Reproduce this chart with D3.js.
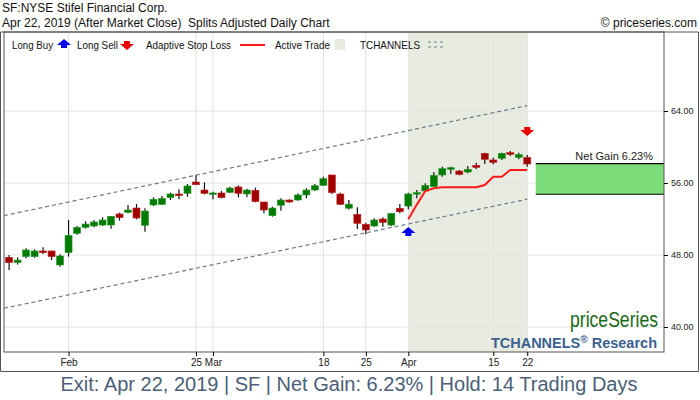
<!DOCTYPE html>
<html><head><meta charset="utf-8">
<script src="https://cdn.jsdelivr.net/npm/d3@7"></script>
<style>body{margin:0;background:#fff}text{font-family:"Liberation Sans",Arial,sans-serif}</style>
</head><body><svg id="c" width="700" height="400"></svg>
<script>
const opens=[47.74,47.15,47.82,47.82,48.45,48.45,46.89,48.26,50.41,51.07,51.22,51.33,51.33,52.56,52.74,53.22,51.30,53.56,53.63,54.37,54.78,54.85,56.11,55.22,54.78,54.89,54.96,55.56,54.78,55.19,53.89,52.37,53.52,54.11,54.11,54.67,55.22,55.74,56.89,54.78,53.20,52.52,51.41,51.22,52.00,51.33,53.19,53.44,54.85,55.11,55.59,56.89,57.52,57.33,57.22,57.96,59.30,58.56,58.74,59.37,58.85,58.85];
const closes=[47.15,47.44,48.56,48.45,48.26,47.82,47.89,50.19,51.07,51.44,51.67,51.89,52.30,52.15,53.00,52.11,52.89,54.19,54.30,54.78,54.59,55.67,55.81,54.85,54.89,54.37,55.44,54.85,55.22,53.93,53.00,53.22,54.11,53.89,54.67,55.22,55.70,56.48,54.93,53.63,53.65,51.52,50.78,51.89,51.63,52.63,52.81,54.78,54.93,55.74,56.85,57.59,57.70,56.96,57.52,57.74,58.63,58.30,59.30,59.19,59.15,58.11];
const highs=[47.99,47.74,48.74,48.63,48.85,48.45,48.07,51.89,51.22,51.74,51.89,52.19,52.30,52.70,53.56,53.67,53.19,54.41,54.56,54.93,55.30,55.89,56.85,56.07,55.04,55.11,55.59,55.74,55.37,55.48,53.89,53.37,54.30,54.19,54.85,55.41,55.89,56.70,56.89,54.93,54.10,53.30,51.59,52.07,52.19,52.63,53.67,54.93,55.22,55.96,57.22,57.81,57.81,57.44,57.89,58.26,59.37,58.81,59.37,59.56,59.37,59.11];
const lows=[46.33,46.93,47.63,47.70,48.11,47.44,46.70,47.82,50.26,50.93,51.07,51.22,50.93,51.81,52.63,51.96,50.59,53.44,53.56,54.11,54.19,54.48,55.81,54.74,54.19,54.30,54.85,54.41,54.41,53.85,52.63,52.26,52.93,53.82,54.04,54.30,55.11,55.67,54.78,53.56,53.05,50.89,50.30,51.15,51.15,51.22,52.63,53.07,54.30,55.00,55.52,56.70,57.00,56.85,57.07,57.56,58.11,58.07,58.56,59.00,58.63,57.81];
const stopIdx=[47,48,49,50,51,52,53,54,55,56,57,58,59,60,61];
const stopVals=[51.96,53.6,55.11,55.41,55.52,55.52,55.52,55.52,55.52,55.78,56.7,56.7,57.44,57.44,57.44];
const xTickIdx=[7,22,24,37,42,47,57,61];
const xTickLabels=["Feb","25","Mar","18","25","Apr","15","22"];
const yTicks=[40,48,56,64];
const upperCh=[52.5,64.6], lowerCh=[42.2,54.2];
const entry=54.75, exitP=58.16;

const svg=d3.select("#c");
const L=4,R=664,T=32,B=352;
const x=d3.scaleLinear().domain([-0.6,77.1]).range([L,R]);
const y=d3.scaleLinear().domain([56,64]).range([183,111]);
svg.append("defs").append("clipPath").attr("id","pc").append("rect").attr("x",L).attr("y",T).attr("width",R-L).attr("height",B-T);
const g=svg.append("g").attr("clip-path","url(#pc)");
g.append("rect").attr("x",x(47)).attr("y",T).attr("width",x(61)-x(47)).attr("height",B-T).attr("fill","#e8ebe0");
yTicks.forEach(v=>g.append("line").attr("x1",L).attr("x2",R).attr("y1",y(v)).attr("y2",y(v)).attr("stroke","#e2e2e2"));
xTickIdx.forEach(i=>g.append("line").attr("x1",x(i)).attr("x2",x(i)).attr("y1",T).attr("y2",B).attr("stroke","#e2e2e2"));
[upperCh,lowerCh].forEach(c=>{
  const s=(c[1]-c[0])/61;
  g.append("line").attr("x1",x(-0.6)).attr("y1",y(c[0]-0.6*s)).attr("x2",x(61)).attr("y2",y(c[1]))
   .attr("stroke","#6a7a8a").attr("stroke-width",1.2).attr("stroke-dasharray","4,3");
});
opens.forEach((o,i)=>{
  const c=closes[i],up=c>=o,col=up?"#007a00":"#a00000";
  g.append("line").attr("x1",x(i)).attr("x2",x(i)).attr("y1",y(highs[i])).attr("y2",y(lows[i])).attr("stroke","#111").attr("stroke-width",1.2);
  const t=Math.min(y(o),y(c)),h=Math.max(1.5,Math.abs(y(o)-y(c)));
  g.append("rect").attr("x",x(i)-3.5).attr("y",t).attr("width",7).attr("height",h).attr("fill",col).attr("stroke",up?"#2a9a2a":"#c02020").attr("stroke-width",0.6);
});
g.append("path").datum(stopIdx.map((d,k)=>[d,stopVals[k]])).attr("d",d3.line().x(d=>x(d[0])).y(d=>y(d[1])))
 .attr("fill","none").attr("stroke","#ff1a1a").attr("stroke-width",2);
g.append("rect").attr("x",x(62)).attr("y",y(exitP)).attr("width",R-x(62)).attr("height",y(entry)-y(exitP)).attr("fill","#7ddc7a");
[exitP,entry].forEach(v=>g.append("line").attr("x1",x(62)).attr("x2",R).attr("y1",y(v)).attr("y2",y(v)).attr("stroke","#000").attr("stroke-width",1.2));
g.append("text").attr("x",653).attr("y",y(exitP)-4).attr("text-anchor","end").attr("font-size",11).attr("fill","#222").text("Net Gain 6.23%");
function arrow(cx,cy,dir){
  const p=dir>0?[[0,-6],[7,0],[3,0],[3,3],[-3,3],[-3,0],[-7,0]]:[[0,6],[7,0],[3,0],[3,-3],[-3,-3],[-3,0],[-7,0]];
  return "M"+p.map(q=>[cx+q[0],cy+q[1]].join(",")).join("L")+"Z";
}
g.append("path").attr("d",arrow(x(47),233,1)).attr("fill","#0000ee");
g.append("path").attr("d",arrow(x(61),130,-1)).attr("fill","#ee0000");
g.append("text").attr("x",658).attr("y",327).attr("text-anchor","end").attr("font-size",22).attr("fill","#1a6a1a")
 .attr("font-family","DejaVu Sans Condensed").attr("transform","translate(658,0) scale(0.8,1) translate(-658,0)").text("priceSeries");
const tr=g.append("text").attr("x",657).attr("y",348).attr("text-anchor","end").attr("font-size",14.5).attr("font-weight","bold").attr("fill","#3a6090");
tr.append("tspan").text("TCHANNELS");tr.append("tspan").attr("font-size",10).attr("dy",-5).text("®");tr.append("tspan").attr("dy",5).text(" Research");
const lg=svg.append("g").attr("font-size",11.5).attr("fill","#111");
function lt(x0,w,s){lg.append("text").attr("x",x0).attr("y",49).attr("textLength",w).attr("lengthAdjust","spacingAndGlyphs").text(s);}
lt(12,41,"Long Buy");
lg.append("path").attr("d",arrow(64,45,1)).attr("fill","#0000ee");
lt(77,41,"Long Sell");
lg.append("path").attr("d",arrow(127,44,-1)).attr("fill","#ee0000");
lt(146,85,"Adaptive Stop Loss");
lg.append("line").attr("x1",240).attr("x2",265).attr("y1",45).attr("y2",45).attr("stroke","#ff1a1a").attr("stroke-width",2);
lt(275,55,"Active Trade");
lg.append("rect").attr("x",335).attr("y",39).attr("width",10).attr("height",11).attr("fill","#e8ebe0");
lt(360,60,"TCHANNELS");
[42,47].forEach(yy=>lg.append("line").attr("x1",428).attr("x2",446).attr("y1",yy).attr("y2",yy).attr("stroke","#6a7a8a").attr("stroke-dasharray","3,3"));
svg.append("rect").attr("x",L).attr("y",T).attr("width",R-L).attr("height",B-T).attr("fill","none").attr("stroke","#555");
svg.append("path").attr("d",`M0.5,${T}V371.5H698.5V${T}H0.5`).attr("fill","none").attr("stroke","#555");
const ya=svg.append("g").attr("transform",`translate(${R},0)`).call(d3.axisRight(y).tickValues(yTicks).tickFormat(d3.format(".2f")).tickSize(4));
ya.select(".domain").remove();ya.selectAll("text").attr("font-size",9).attr("fill","#222").attr("font-family","Liberation Sans");
const xa=svg.append("g").attr("transform",`translate(0,${B})`).call(d3.axisBottom(x).tickValues(xTickIdx).tickFormat((d,k)=>xTickLabels[k]).tickSize(4));
xa.select(".domain").remove();xa.selectAll("text").attr("font-size",10).attr("fill","#222").attr("font-family","Liberation Sans");
svg.append("text").attr("x",2).attr("y",12).attr("font-size",12).attr("fill","#111").text("SF:NYSE Stifel Financial Corp.");
svg.append("text").attr("x",2).attr("y",27).attr("font-size",12).attr("fill","#111").attr("xml:space","preserve").text("Apr 22, 2019 (After Market Close)  Splits Adjusted Daily Chart");
svg.append("text").attr("x",697).attr("y",27).attr("text-anchor","end").attr("font-size",12).attr("fill","#111").text("© priceseries.com");
svg.append("text").attr("x",349).attr("y",391).attr("text-anchor","middle").attr("font-size",20).attr("fill","#4a6078").text("Exit: Apr 22, 2019 | SF | Net Gain: 6.23% | Hold: 14 Trading Days");
</script></body></html>
